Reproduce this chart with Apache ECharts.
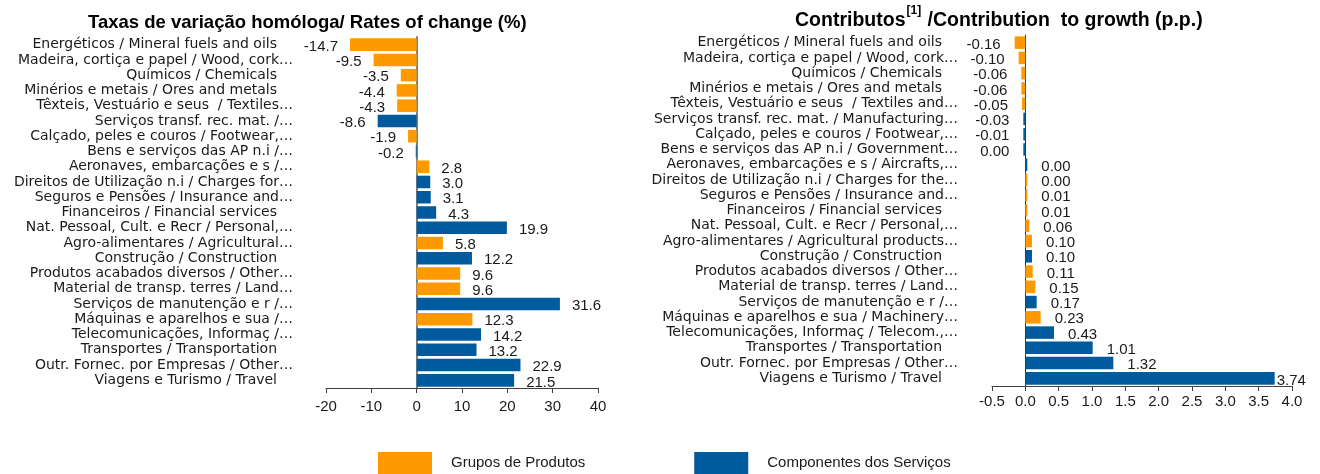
<!DOCTYPE html>
<html>
<head>
<meta charset="utf-8">
<script src="https://cdn.jsdelivr.net/npm/echarts@6/dist/echarts.min.js"></script>
<style>
html,body{margin:0;padding:0;background:#fff;}
#chart{width:1320px;height:474px;}
</style>
</head>
<body>
<div id="chart"></div>
<script>
// ---- Data ----
const leftTitle = 'Taxas de variação homóloga/ Rates of change (%)';
const leftCategories = [
  'Energéticos / Mineral fuels and oils',
  'Madeira, cortiça e papel / Wood, cork…',
  'Químicos / Chemicals',
  'Minérios e metais / Ores and metals',
  'Têxteis, Vestuário e seus  / Textiles…',
  'Serviços transf. rec. mat. /…',
  'Calçado, peles e couros / Footwear,…',
  'Bens e serviços das AP n.i /…',
  'Aeronaves, embarcações e s /…',
  'Direitos de Utilização n.i / Charges for…',
  'Seguros e Pensões / Insurance and…',
  'Financeiros / Financial services',
  'Nat. Pessoal, Cult. e Recr / Personal,…',
  'Agro-alimentares / Agricultural…',
  'Construção / Construction',
  'Produtos acabados diversos / Other…',
  'Material de transp. terres / Land…',
  'Serviços de manutenção e r /…',
  'Máquinas e aparelhos e sua /…',
  'Telecomunicações, Informaç /…',
  'Transportes / Transportation',
  'Outr. Fornec. por Empresas / Other…',
  'Viagens e Turismo / Travel'
];
const leftValues = [-14.7, -9.5, -3.5, -4.4, -4.3, -8.6, -1.9, -0.2, 2.8, 3.0, 3.1, 4.3, 19.9, 5.8, 12.2, 9.6, 9.6, 31.6, 12.3, 14.2, 13.2, 22.9, 21.5];
const leftTypes = ['P','P','P','P','P','S','P','S','P','S','S','S','S','P','S','P','P','S','P','S','S','S','S'];

const rightTitleMain = 'Contributos';
const rightTitleSup = '[1]';
const rightTitleRest = ' /Contribution  to growth (p.p.)';
const rightCategories = [
  'Energéticos / Mineral fuels and oils',
  'Madeira, cortiça e papel / Wood, cork…',
  'Químicos / Chemicals',
  'Minérios e metais / Ores and metals',
  'Têxteis, Vestuário e seus  / Textiles and…',
  'Serviços transf. rec. mat. / Manufacturing…',
  'Calçado, peles e couros / Footwear,…',
  'Bens e serviços das AP n.i / Government…',
  'Aeronaves, embarcações e s / Aircrafts,…',
  'Direitos de Utilização n.i / Charges for the…',
  'Seguros e Pensões / Insurance and…',
  'Financeiros / Financial services',
  'Nat. Pessoal, Cult. e Recr / Personal,…',
  'Agro-alimentares / Agricultural products…',
  'Construção / Construction',
  'Produtos acabados diversos / Other…',
  'Material de transp. terres / Land…',
  'Serviços de manutenção e r /…',
  'Máquinas e aparelhos e sua / Machinery…',
  'Telecomunicações, Informaç / Telecom.,…',
  'Transportes / Transportation',
  'Outr. Fornec. por Empresas / Other…',
  'Viagens e Turismo / Travel'
];
const rightValues = [-0.16, -0.10, -0.06, -0.06, -0.05, -0.03, -0.01, -0.004, 0.004, 0.003, 0.01, 0.01, 0.06, 0.10, 0.10, 0.11, 0.15, 0.17, 0.23, 0.43, 1.01, 1.32, 3.74];
const rightTypes = ['P','P','P','P','P','S','S','S','S','P','P','P','P','P','S','P','P','S','P','S','S','S','S'];

const seriesNames = { P: 'Grupos de Produtos', S: 'Componentes dos Serviços' };
const leftAxis = { min: -20, max: 40, interval: 10 };
const rightAxis = { min: -0.5, max: 4.0, interval: 0.5 };

// ---- Styles ----
const ORANGE = '#FF9900';
const BLUE = '#005A9E';
const TXT = '#1a1a1a';
const catFont = 'DejaVu Sans';

function fmtLeft(v) { return v.toFixed(1); }
function fmtRight(v) { return Math.abs(v) < 0.005 ? '0.00' : v.toFixed(2); }

function buildSeries(values, types, type, gridIdx, fmt, dist, axisMax, minH) {
  return {
    name: seriesNames[type],
    type: 'bar',
    xAxisIndex: gridIdx,
    yAxisIndex: gridIdx,
    stack: 'g' + gridIdx,
    barCategoryGap: '18%',
    barMinHeight: minH,
    itemStyle: { color: type === 'P' ? ORANGE : BLUE },
    data: values.map((v, i) => {
      if (types[i] !== type) return null;
      const near = v > axisMax * 0.9;
      return {
        value: v,
        label: {
          show: true,
          position: v < 0 ? 'left' : 'right',
          distance: near ? 2 : dist,
          offset: [0, 2],
          formatter: () => fmt(v),
          fontFamily: 'Liberation Sans',
          fontSize: 15,
          color: TXT
        }
      };
    })
  };
}

function catLabelFmt(s) {
  return s.endsWith('…') ? s : s + '{pad|}';
}

const chart = echarts.init(document.getElementById('chart'), null, { renderer: 'canvas' });

const option = {
  animation: false,
  backgroundColor: '#fff',
  title: [
    {
      text: leftTitle,
      left: 83, top: 8,
      textStyle: { fontFamily: 'Liberation Sans', fontWeight: 'bold', fontSize: 18.5, color: '#000' }
    },
    {
      text: '{m|' + rightTitleMain + '}{s|' + rightTitleSup + '}{m|' + rightTitleRest + '}',
      left: 790, top: 0,
      textStyle: {
        rich: {
          m: { fontFamily: 'Liberation Sans', fontWeight: 'bold', fontSize: 19.5, color: '#000', verticalAlign: 'bottom', lineHeight: 26 },
          s: { fontFamily: 'Liberation Sans', fontWeight: 'bold', fontSize: 12, color: '#000', verticalAlign: 'top', lineHeight: 26, padding: [0, 1, 10, 1] }
        }
      }
    }
  ],
  legend: {
    left: 373, top: 447,
    itemWidth: 54, itemHeight: 22,
    itemGap: 109,
    icon: 'rect',
    data: [seriesNames.P, seriesNames.S],
    textStyle: { fontFamily: 'Liberation Sans', fontSize: 15, color: TXT, padding: [0, 0, 0, 14] }
  },
  grid: [
    { left: 326, right: 722, top: 37, bottom: 86, outerBoundsMode: 'none', containLabel: false },
    { left: 992, right: 28, top: 35, bottom: 88, outerBoundsMode: 'none', containLabel: false }
  ],
  xAxis: [0, 1].map(g => {
    const ax = g === 0 ? leftAxis : rightAxis;
    return {
      type: 'value', gridIndex: g,
      min: ax.min, max: ax.max, interval: ax.interval,
      splitLine: { show: false },
      axisLine: { show: true, lineStyle: { color: '#404040', width: 1 } },
      axisTick: { show: true, length: 5, lineStyle: { color: '#404040' } },
      axisLabel: {
        fontFamily: 'Liberation Sans', fontSize: 15, color: TXT, margin: g === 0 ? 11 : 8,
        formatter: v => g === 0 ? String(v) : v.toFixed(1)
      }
    };
  }),
  yAxis: [0, 1].map(g => ({
    type: 'category', gridIndex: g, inverse: true,
    data: g === 0 ? leftCategories : rightCategories,
    axisLine: { show: true, onZero: true, lineStyle: g === 0 ? { color: '#808080', width: 2 } : { color: '#333333', width: 1 } },
    axisTick: { show: false },
    axisLabel: {
      interval: 0,
      margin: g === 0 ? 33 : 34,
      fontFamily: catFont, fontSize: 14, color: TXT,
      formatter: catLabelFmt,
      rich: { pad: { width: 16 } }
    }
  })),
  series: [
    buildSeries(leftValues, leftTypes, 'P', 0, fmtLeft, 12, leftAxis.max, 0),
    buildSeries(leftValues, leftTypes, 'S', 0, fmtLeft, 12, leftAxis.max, 0),
    buildSeries(rightValues, rightTypes, 'P', 1, fmtRight, 14, rightAxis.max, 2),
    buildSeries(rightValues, rightTypes, 'S', 1, fmtRight, 14, rightAxis.max, 2)
  ]
};
chart.setOption(option);
</script>
</body>
</html>
